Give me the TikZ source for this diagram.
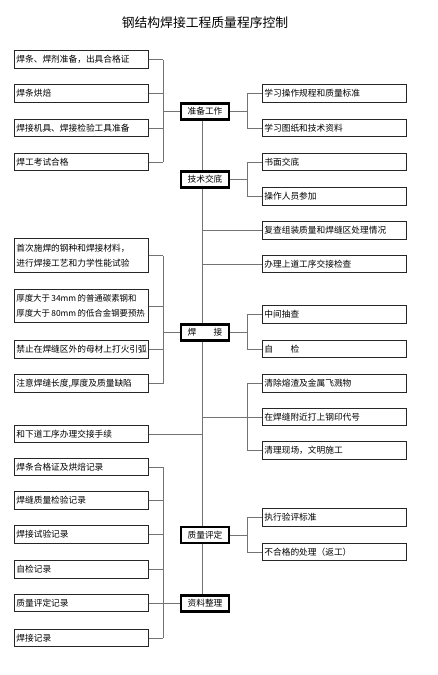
\documentclass[tikz,border=0pt]{standalone}
\usepackage{fontspec}
\setmainfont{Noto Sans CJK SC}
\newcommand{\boxfont}{\fontsize{8.7}{15}\selectfont}
\newcommand{\smallboxfont}{\fontsize{8.4}{15}\selectfont}
\newcommand{\titlefont}{\fontsize{12.8}{15}\selectfont}

\begin{document}
\begin{tikzpicture}[x=1pt,y=-1pt,
  lbox/.style={draw=black!85,line width=0.8pt,anchor=west,text width=130pt,inner xsep=2pt,inner ysep=0pt,minimum height=17.5pt,align=left,font=\boxfont},
  rbox/.style={lbox,text width=140pt},
  stage/.style={draw=black,line width=2.2pt,minimum width=48pt,minimum height=16pt,inner sep=0pt,fill=white,font=\boxfont},
  wire/.style={black!55,line width=0.8pt}]
\useasboundingbox (0,0) rectangle (438,675);

% 标题
\node[font=\titlefont] (title) at (205,23) {钢结构焊接工程质量程序控制};

% 主流程
\node[stage] (prep) at (205,111.5) {准备工作};
\node[stage] (brief) at (205,179.5) {技术交底};
\node[stage] (weld) at (205,332.5) {焊　　接};
\node[stage] (assess) at (205,535) {质量评定};
\node[stage] (records) at (205,603.5) {资料整理};

% 汇线的位置
\coordinate (lbus) at (163,0);
\coordinate (rbus) at (247,0);
\coordinate (trunk) at (202,0);

% 左侧事项
\node[lbox] (l1) at (14,59.5) {焊条、焊剂准备，出具合格证};
\node[lbox] (l2) at (14,93.5) {焊条烘焙};
\node[lbox] (l3) at (14,128) {焊接机具、焊接检验工具准备};
\node[lbox] (l4) at (14,162) {焊工考试合格};
\node[lbox,minimum height=33.5pt] (l5) at (14,255.5) {首次施焊的钢种和焊接材料，\\进行焊接工艺和力学性能试验};
\node[lbox,minimum height=33.5pt,font=\smallboxfont] (l6) at (14,306) {厚度大于\,34mm\,的普通碳素钢和\\厚度大于\,80mm\,的低合金钢要预热};
\node[lbox] (l7) at (14,349.5) {禁止在焊缝区外的母材上打火引弧};
\node[lbox] (l8) at (14,383.5) {注意焊缝长度,厚度及质量缺陷};
\node[lbox] (l9) at (14,434) {和下道工序办理交接手续};
\node[lbox] (l10) at (14,467) {焊条合格证及烘焙记录};
\node[lbox] (l11) at (14,500.5) {焊缝质量检验记录};
\node[lbox] (l12) at (14,534.5) {焊接试验记录};
\node[lbox] (l13) at (14,569.5) {自检记录};
\node[lbox] (l14) at (14,603) {质量评定记录};
\node[lbox] (l15) at (14,638) {焊接记录};

% 右侧事项
\node[rbox] (r1) at (262,93.5) {学习操作规程和质量标准};
\node[rbox] (r2) at (262,128) {学习图纸和技术资料};
\node[rbox] (r3) at (262,162) {书面交底};
\node[rbox] (r4) at (262,196.5) {操作人员参加};
\node[rbox] (r5) at (262,230.5) {复查组装质量和焊缝区处理情况};
\node[rbox] (r6) at (262,264) {办理上道工序交接检查};
\node[rbox] (r7) at (262,314.5) {中间抽查};
\node[rbox] (r8) at (262,349) {自　　检};
\node[rbox] (r9) at (262,383.5) {清除熔渣及金属飞溅物};
\node[rbox] (r10) at (262,417) {在焊缝附近打上钢印代号};
\node[rbox] (r11) at (262,450.5) {清理现场，文明施工};
\node[rbox] (r12) at (262,517.5) {执行验评标准};
\node[rbox] (r13) at (262,552) {不合格的处理（返工）};

% 主干线
\draw[wire] (prep.south -| trunk) -- (brief.north -| trunk);
\draw[wire] (brief.south -| trunk) -- (weld.north -| trunk);
\draw[wire] (weld.south -| trunk) -- (assess.north -| trunk);
\draw[wire] (assess.south -| trunk) -- (records.north -| trunk);

% 准备工作
\draw[wire] (l1.east) -- (l1.east -| lbus) (l2.east) -- (l2.east -| lbus)
  (l3.east) -- (l3.east -| lbus) (l4.east) -- (l4.east -| lbus)
  (l1.east -| lbus) -- (l4.east -| lbus) (lbus |- prep) -- (prep.west);
\draw[wire] (prep.east) -- (rbus |- prep) (r1.west -| rbus) -- (r2.west -| rbus)
  (r1.west -| rbus) -- (r1.west) (r2.west -| rbus) -- (r2.west);

% 技术交底
\draw[wire] (brief.east) -- (rbus |- brief) (r3.west -| rbus) -- (r4.west -| rbus)
  (r3.west -| rbus) -- (r3.west) (r4.west -| rbus) -- (r4.west);
\draw[wire] (r5.west -| trunk) -- (r5.west);
\draw[wire] (r6.west -| trunk) -- (r6.west);

% 焊接
\draw[wire] (l5.east) -- (l5.east -| lbus) (l6.east) -- (l6.east -| lbus)
  (l7.east) -- (l7.east -| lbus) (l8.east) -- (l8.east -| lbus)
  (l5.east -| lbus) -- (l8.east -| lbus) (lbus |- weld) -- (weld.west);
\draw[wire] (weld.east) -- (rbus |- weld) (r7.west -| rbus) -- (r8.west -| rbus)
  (r7.west -| rbus) -- (r7.west) (r8.west -| rbus) -- (r8.west);
\draw[wire] (r9.west) -- (r9.west -| rbus) -- (r11.west -| rbus) -- (r11.west);
\draw[wire] (r10.west -| trunk) -- (r10.west);
\draw[wire] (l9.east) -- (l9.east -| trunk);

% 质量评定
\draw[wire] (assess.east) -- (rbus |- assess) (r12.west -| rbus) -- (r13.west -| rbus)
  (r12.west -| rbus) -- (r12.west) (r13.west -| rbus) -- (r13.west);

% 资料整理
\draw[wire] (l10.east) -- (l10.east -| lbus) (l11.east) -- (l11.east -| lbus)
  (l12.east) -- (l12.east -| lbus) (l13.east) -- (l13.east -| lbus)
  (l14.east) -- (l14.east -| lbus) (l15.east) -- (l15.east -| lbus)
  (l10.east -| lbus) -- (l15.east -| lbus) (lbus |- records) -- (records.west);

\end{tikzpicture}
\end{document}
